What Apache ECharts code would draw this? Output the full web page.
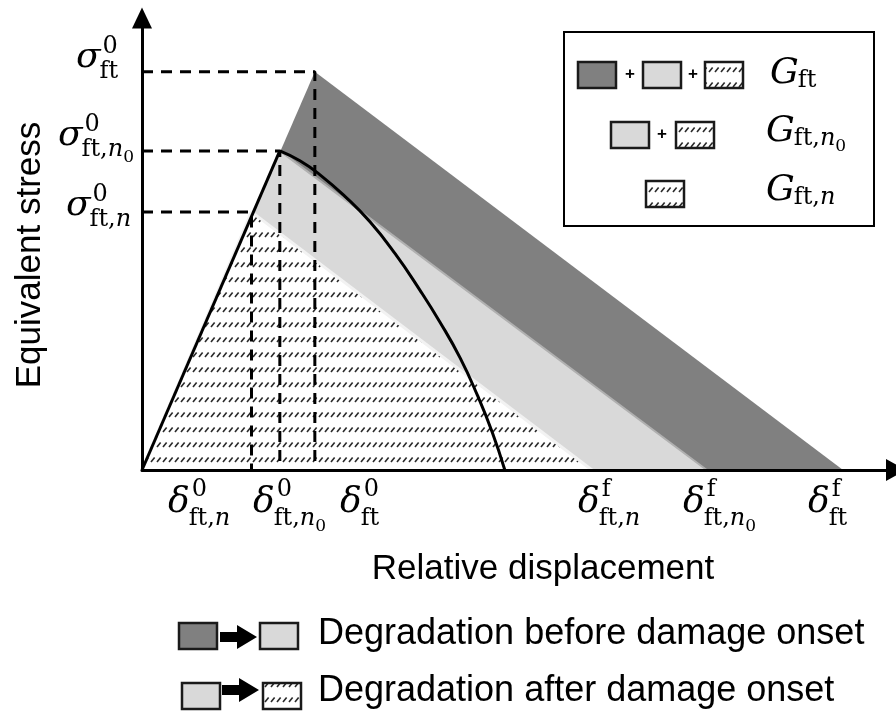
<!DOCTYPE html>
<html>
<head>
<meta charset="utf-8">
<script src="https://cdn.jsdelivr.net/npm/echarts@6/dist/echarts.min.js"></script>
<style>
  html, body { margin: 0; padding: 0; background: #fff; }
  #chart { width: 896px; height: 715px; }
</style>
</head>
<body>
<div id="chart"></div>
<script>
// relative units: [undamaged, after n0 cycles, after n cycles]
const onsetDisp = [23.2, 18.5, 14.7]     // δ^0
const onsetStress = [88.1, 70.6, 57.1]   // σ^0
const failDisp = [94.1, 75.8, 60.4]      // δ^f

// softening curve of the n0 state
const curveX = [18.5, 21.2, 23.9, 27.2, 30.6, 34.0, 37.3, 40.0, 42.7, 45.0, 47.0, 48.7]
const curveY = [70.6, 68.4, 65.3, 60.6, 54.9, 47.8, 39.8, 32.7, 24.8, 16.6, 8.4, 0]

const xName = 'Relative displacement'
const yName = 'Equivalent stress'
const noteTexts = ['Degradation before damage onset', 'Degradation after damage onset']

// hatch tile: rows of short slanted strokes
const hatchCanvas = document.createElement('canvas')
hatchCanvas.width = 6
hatchCanvas.height = 15
const hc = hatchCanvas.getContext('2d')
hc.fillStyle = '#fff'
hc.fillRect(0, 0, 6, 15)
hc.strokeStyle = '#2a2a2a'
hc.lineWidth = 1.6
hc.beginPath()
hc.moveTo(1, 12)
hc.lineTo(4.6, 7.5)
hc.stroke()
const hatch = { image: hatchCanvas, repeat: 'repeat' }

const DARK = '#808080'
const LIGHT = '#d9d9d9'
const areaColors = [DARK, LIGHT, hatch]
const edgeColors = [DARK, '#b0b0b0', '#f2f2f2']
const edgeWidths = [0, 2, 3]

// ---- math labels (built from several text pieces) ----
const mctx = document.createElement('canvas').getContext('2d')
const FONT = {
  b: 'italic 36px "DejaVu Serif"',
  r: '24px "DejaVu Serif"',
  i: 'italic 24px "DejaVu Serif"',
  ss: '17px "DejaVu Serif"'
}
const SIZE = { b: 36, r: 24, i: 24, ss: 17 }
const textW = (t, k) => { mctx.font = FONT[k]; return mctx.measureText(t).width }

const textEl = (t, k, x, baseline) => ({
  type: 'text', x, y: baseline - SIZE[k] * 0.33, z: 100,
  style: { text: t, font: FONT[k], fill: '#000', textAlign: 'left', textVerticalAlign: 'middle' }
})

const mathLabel = (l) => {
  const els = [textEl(l.base, 'b', l.x, l.y)]
  const x0 = l.x + textW(l.base, 'b')
  if (l.sup) els.push(textEl(l.sup, 'r', x0 + 2, l.y + l.supDy))
  let x = x0 - 1
  l.sub.forEach(([t, k]) => {
    els.push(textEl(t, k, x, l.y + l.subDy + (k === 'ss' ? 5 : 0)))
    x += textW(t, k)
  })
  return els
}

const SUB_N = [['ft,', 'r'], ['n', 'i']]
const SUB_N0 = [['ft,', 'r'], ['n', 'i'], ['0', 'ss']]
const SUB_FT = [['ft', 'r']]

const mathLabels = [
  // stress ticks
  { base: 'σ', sup: '0', sub: SUB_FT, x: 76, y: 70, supDy: -15, subDy: 10 },
  { base: 'σ', sup: '0', sub: SUB_N0, x: 58, y: 148, supDy: -15, subDy: 10 },
  { base: 'σ', sup: '0', sub: SUB_N, x: 66, y: 218, supDy: -15, subDy: 10 },
  // displacement ticks
  { base: 'δ', sup: '0', sub: SUB_N, x: 168, y: 515, supDy: -17, subDy: 12 },
  { base: 'δ', sup: '0', sub: SUB_N0, x: 253, y: 515, supDy: -17, subDy: 12 },
  { base: 'δ', sup: '0', sub: SUB_FT, x: 340, y: 515, supDy: -17, subDy: 12 },
  { base: 'δ', sup: 'f', sub: SUB_N, x: 578, y: 515, supDy: -17, subDy: 12 },
  { base: 'δ', sup: 'f', sub: SUB_N0, x: 683, y: 515, supDy: -17, subDy: 12 },
  { base: 'δ', sup: 'f', sub: SUB_FT, x: 808, y: 515, supDy: -17, subDy: 12 },
  // energy legend
  { base: 'G', sub: SUB_FT, x: 770, y: 86, subDy: 3 },
  { base: 'G', sub: SUB_N0, x: 766, y: 144, subDy: 3 },
  { base: 'G', sub: SUB_N, x: 766, y: 203, subDy: 3 }
]

const swatch = (x, y, fill) => ({
  type: 'rect', z: 100,
  shape: { x, y, width: 38, height: 26 },
  style: { fill, stroke: '#1a1a1a', lineWidth: 2.5 }
})
const plus = (x, y) => ({
  type: 'text', x, y, z: 100,
  style: { text: '+', font: 'bold 17px "Liberation Sans"', fill: '#000', textAlign: 'center', textVerticalAlign: 'middle' }
})
const arrow = (x, cy) => ({
  type: 'polygon', z: 100,
  shape: { points: [[x, cy - 5], [x + 17, cy - 5], [x + 17, cy - 12], [x + 37, cy], [x + 17, cy + 12], [x + 17, cy + 5], [x, cy + 5]] },
  style: { fill: '#000' }
})
const plainText = (t, x, y, align, size, extra) => Object.assign({
  type: 'text', x, y, z: 100,
  style: { text: t, font: size + 'px "Liberation Sans"', fill: '#000', textAlign: align, textVerticalAlign: 'middle' }
}, extra || {})

const graphics = [
  // legend box
  { type: 'rect', z: 90, shape: { x: 564, y: 32, width: 310, height: 194 }, style: { fill: '#fff', stroke: '#000', lineWidth: 2 } },
  swatch(578, 62, DARK), plus(630, 74), swatch(643, 62, LIGHT), plus(693, 74), swatch(705, 62, hatch),
  swatch(611, 122, LIGHT), plus(662, 134), swatch(676, 122, hatch),
  swatch(646, 181, hatch),
  // bottom notes
  swatch(179, 623, DARK), arrow(220, 637), swatch(260, 623, LIGHT), plainText(noteTexts[0], 318, 634, 'left', 36),
  swatch(182, 683, LIGHT), arrow(222, 690), swatch(263, 683, hatch), plainText(noteTexts[1], 318, 691, 'left', 36),
  // axis titles
  plainText(xName, 543, 569, 'center', 35),
  plainText(yName, 30, 255, 'center', 35, { rotation: Math.PI / 2 })
]
mathLabels.forEach(l => graphics.push(...mathLabel(l)))

const series = []
// energy triangles
onsetDisp.forEach((d, i) => {
  series.push({
    type: 'line', silent: true, symbol: 'none', z: 2 + i,
    data: [[0, 0], [d, onsetStress[i]], [failDisp[i], 0]],
    lineStyle: { width: edgeWidths[i], color: edgeColors[i] },
    areaStyle: { color: areaColors[i], opacity: 1 }
  })
})
// dashed guides
onsetDisp.forEach((d, i) => {
  series.push({
    type: 'line', silent: true, symbol: 'none', z: 6,
    data: [[0, onsetStress[i]], [d, onsetStress[i]], [d, 0]],
    lineStyle: { type: [11, 8], width: 3, color: '#000' }
  })
})
// n0 response: elastic branch + softening curve
series.push({
  type: 'line', silent: true, symbol: 'none', z: 7,
  data: [[0, 0], [onsetDisp[1], onsetStress[1]]],
  lineStyle: { width: 3, color: '#000' }
})
series.push({
  type: 'line', silent: true, symbol: 'none', z: 7, smooth: 0.5,
  data: curveX.map((x, i) => [x, curveY[i]]),
  lineStyle: { width: 3, color: '#000' }
})

const hidden = { axisTick: { show: false }, axisLabel: { show: false }, splitLine: { show: false } }

const chart = echarts.init(document.getElementById('chart'))
chart.setOption({
  backgroundColor: '#fff',
  animation: false,
  grid: { left: 142, right: 9, top: 18, bottom: 245 },
  xAxis: Object.assign({
    type: 'value', min: 0, max: 100, z: 10,
    axisLine: { show: true, onZero: false, symbol: ['none', 'triangle'], symbolSize: [22, 20], symbolOffset: [0, 9], lineStyle: { color: '#000', width: 3 } }
  }, hidden),
  yAxis: Object.assign({
    type: 'value', min: 0, max: 100, z: 10,
    axisLine: { show: true, onZero: false, symbol: ['none', 'triangle'], symbolSize: [20, 21], lineStyle: { color: '#000', width: 3 } }
  }, hidden),
  series,
  graphic: { elements: graphics }
})
</script>
</body>
</html>
